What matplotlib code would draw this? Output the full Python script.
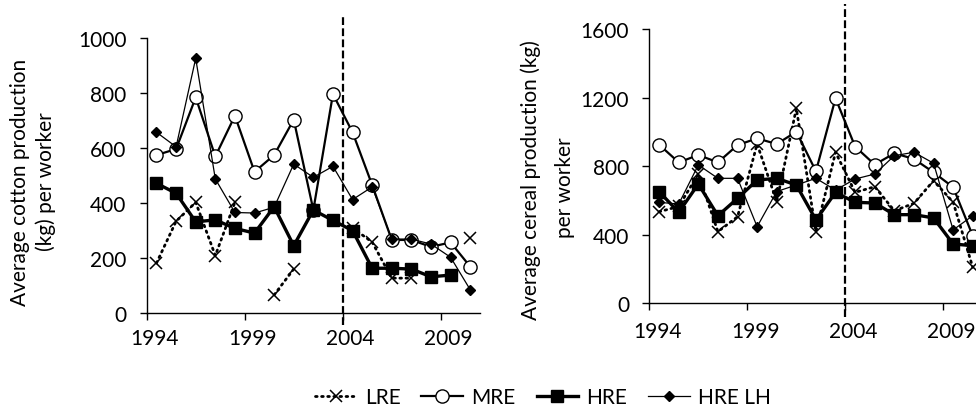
import numpy as np
import matplotlib.pyplot as plt
import matplotlib.transforms as mtransforms

plt.rcParams['font.family'] = ['Lato', 'DejaVu Sans']

years = np.arange(1994, 2011)
nan = np.nan

# cotton (kg per worker)
cotton_lre = [182, 334, 403, 209, 403, nan, 66, 160, nan, nan, 310, 258, 127, 127, nan, nan, 272]
cotton_mre = [575, 597, 785, 570, 718, 514, 575, 704, 375, 797, 658, 466, 266, 266, 241, 257, 169]
cotton_hre = [472, 436, 332, 339, 308, 291, 387, 245, 375, 337, 300, 163, 163, 160, 132, 138, nan]
cotton_hrelh = [658, 605, 927, 488, 366, 364, 385, 542, 494, 534, 413, 459, 269, 269, 251, 203, 85]

# cereal (kg per worker)
cereal_lre = [534, 565, 754, 418, 505, 929, 593, 1137, 418, 881, 647, 680, 540, 583, 715, 590, 210]
cereal_mre = [925, 822, 865, 822, 923, 962, 929, 1001, 770, 1196, 914, 809, 875, 842, 764, 677, 394]
cereal_hre = [651, 531, 696, 511, 612, 719, 729, 690, 486, 647, 589, 585, 517, 517, 498, 346, 336]
cereal_hrelh = [589, 579, 807, 729, 729, 447, 652, 690, 729, 660, 725, 754, 861, 881, 817, 428, 511]

series_names = ['LRE', 'MRE', 'HRE', 'HRE LH']
tick_years = [1994, 1999, 2004, 2009]
break_year = 2004
fs = 15

fig = plt.figure(figsize=(9.76, 4.14), dpi=100)
ax1 = fig.add_axes([0.1503, 0.2415, 0.3415, 0.6635])
ax2 = fig.add_axes([0.6653, 0.265, 0.3414, 0.6625])

x = years + 0.5


def draw(ax, lre, mre, hre, hrelh):
    l1, = ax.plot(x, lre, color='black', lw=2.0, linestyle=(0, (0.6, 1.6)),
                  dash_capstyle='round', marker='x', ms=8, mew=1.1, label=series_names[0])
    l2, = ax.plot(x, mre, color='black', lw=1.6, marker='o', ms=9.5,
                  mfc='white', mec='black', mew=1.0, label=series_names[1])
    l3, = ax.plot(x, hre, color='black', lw=2.4, marker='s', ms=8.5, label=series_names[2])
    l4, = ax.plot(x, hrelh, color='black', lw=0.9, marker='D', ms=5, label=series_names[3])
    return [l1, l2, l3, l4]


handles = draw(ax1, cotton_lre, cotton_mre, cotton_hre, cotton_hrelh)
draw(ax2, cereal_lre, cereal_mre, cereal_hre, cereal_hrelh)

ax1.set_ylim(0, 1000)
ax1.set_yticks(np.arange(0, 1001, 200))
ax2.set_ylim(0, 1600)
ax2.set_yticks(np.arange(0, 1601, 400))

for ax, xpad, ytop, ybot in [(ax1, 11, 1.088, -0.045), (ax2, 13, 1.092, -0.05)]:
    ax.set_xlim(1994, 2011)
    ax.set_xticks(tick_years)
    ax.set_xticklabels([])
    ax.set_xticks([t + 0.4 for t in tick_years], minor=True)
    ax.set_xticklabels([str(t) for t in tick_years], minor=True)
    ax.tick_params(axis='x', which='major', length=5, width=1, direction='out')
    ax.tick_params(axis='x', which='minor', length=0, pad=xpad, labelsize=fs)
    ax.tick_params(axis='y', length=5, width=1, direction='out', pad=9.5, labelsize=fs)
    for s in ['top', 'right']:
        ax.spines[s].set_visible(False)
    for s in ['left', 'bottom']:
        ax.spines[s].set_linewidth(1.0)
    trans = mtransforms.blended_transform_factory(ax.transData, ax.transAxes)
    ax.plot([break_year, break_year], [ybot, ytop], transform=trans, color='black',
            lw=1.6, linestyle=(0, (3.5, 1.5)), clip_on=False, zorder=5)

fig.text(20 / 976, 1 - 182 / 414, 'Average cotton production', rotation=90,
         ha='center', va='center', fontsize=fs)
fig.text(46 / 976, 1 - 182 / 414, '(kg) per worker', rotation=90,
         ha='center', va='center', fontsize=fs)
fig.text(531 / 976, 1 - 180 / 414, 'Average cereal production (kg)', rotation=90,
         ha='center', va='center', fontsize=fs)
fig.text(565 / 976, 1 - 188 / 414, 'per worker', rotation=90,
         ha='center', va='center', fontsize=fs)

fig.legend(handles, series_names, loc='center', bbox_to_anchor=(543 / 976, 1 - 398 / 414),
           ncol=4, frameon=False, fontsize=fs, handlelength=2.0, handletextpad=0.4,
           columnspacing=1.0, borderpad=0.2)

fig.savefig('out.png', dpi=100)
